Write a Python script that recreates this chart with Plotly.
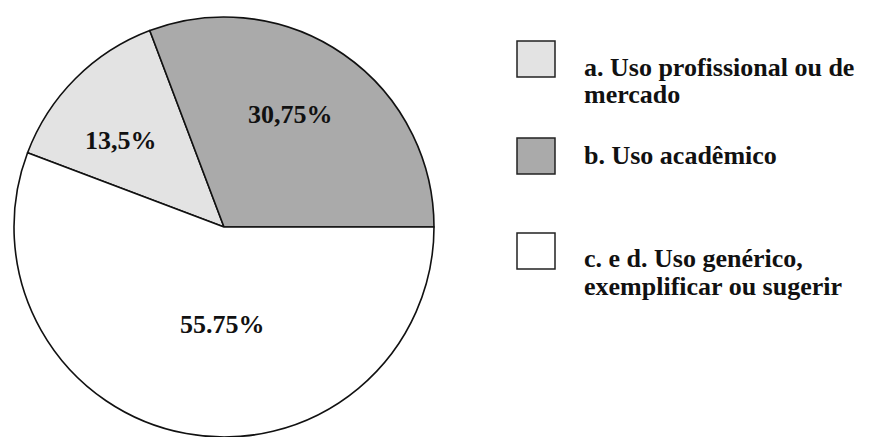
import plotly.graph_objects as go

# Share of uses (percent)
labels = ["a. Uso profissional ou de<br>mercado", "b. Uso acadêmico",
          "c. e d. Uso genérico,<br>exemplificar ou sugerir"]
values = [13.5, 30.75, 55.75]
value_text = ["13,5%", "30,75%", "55.75%"]
colors = ["#e3e3e3", "#aaaaaa", "#ffffff"]

W, H = 873, 437
FONT = "Liberation Serif"

# Slices run clockwise; "b" ends at 3 o'clock
rotation = 90 - 3.6 * (values[0] + values[1])

fig = go.Figure(go.Pie(
    labels=[l.replace("<br>", " ") for l in labels],
    values=values,
    sort=False,
    direction="clockwise",
    rotation=rotation,
    marker=dict(colors=colors, line=dict(color="#111111", width=1.6)),
    textinfo="none",
    hoverinfo="label+percent",
    showlegend=False,
    domain=dict(x=[14 / W, 434 / W], y=[0, 1 - 17 / H]),
))

# Value labels inside the slices (pixel positions from the top-left)
label_pos = [(121, 141), (290, 114), (223, 324)]
annotations = []
for txt, (px, py) in zip(value_text, label_pos):
    annotations.append(dict(
        x=px / W, y=1 - py / H, xref="paper", yref="paper",
        text=f"<b>{txt}</b>", showarrow=False,
        xanchor="center", yanchor="middle",
        font=dict(family=FONT, size=26, color="#111111"),
    ))

# Legend: swatches and wrapped text lines
shapes = []
box_tops = [41, 138, 233]
first_line_y = [67, 156, 258]
line_gap = 28
for lab, col, top, ly in zip(labels, colors, box_tops, first_line_y):
    shapes.append(dict(
        type="rect", xref="paper", yref="paper",
        x0=517 / W, x1=555 / W, y0=1 - top / H, y1=1 - (top + 36) / H,
        fillcolor=col, line=dict(color="#222222", width=1.5),
    ))
    for i, part in enumerate(lab.split("<br>")):
        annotations.append(dict(
            x=582 / W, y=1 - (ly + i * line_gap) / H, xref="paper", yref="paper",
            text=f"<b>{part}</b>", showarrow=False,
            xanchor="left", yanchor="middle",
            font=dict(family=FONT, size=26, color="#111111"),
        ))

fig.update_layout(
    width=W, height=H,
    margin=dict(l=0, r=0, t=0, b=0),
    paper_bgcolor="white", plot_bgcolor="white",
    shapes=shapes, annotations=annotations,
)

fig.write_html("out.html")
